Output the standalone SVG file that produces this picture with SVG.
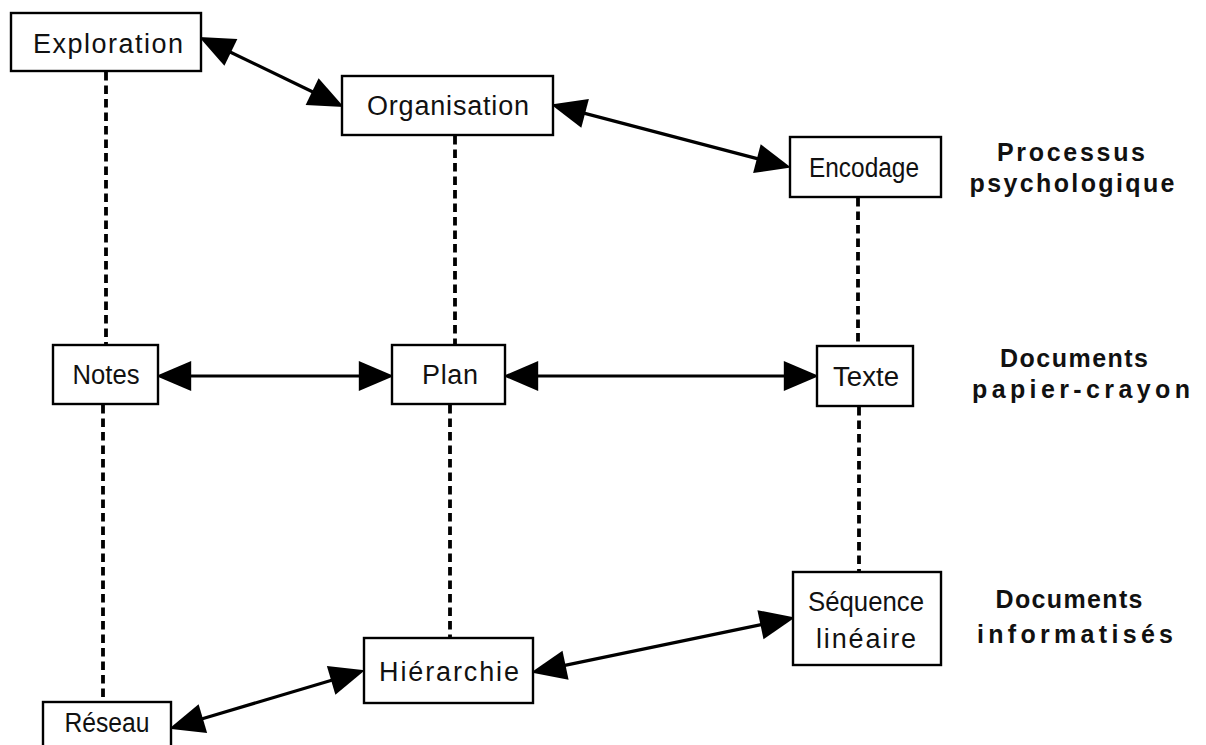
<svg xmlns="http://www.w3.org/2000/svg" width="1206" height="745" viewBox="0 0 1206 745">
<style>
.box{fill:#fff;stroke:#000;stroke-width:2.4}
.t{font-family:"Liberation Sans",Arial,sans-serif;font-size:27px;fill:#111;text-anchor:middle}
.lab{font-family:"Liberation Sans",Arial,sans-serif;font-size:25px;font-weight:bold;fill:#111;text-anchor:middle}
.dash{stroke:#000;stroke-width:3.8;stroke-dasharray:8.5 5;fill:none}
.arr{stroke:#000;stroke-width:3.2;fill:none;marker-start:url(#ah);marker-end:url(#ah)}
</style>
<defs>
<marker id="ah" markerUnits="userSpaceOnUse" markerWidth="40" markerHeight="32" refX="0" refY="0" orient="auto-start-reverse" viewBox="-4 -15 36 30" overflow="visible">
<path d="M-3,-14 L30,0 L-3,14 Z" fill="#000"/>
</marker>
</defs>
<rect width="1206" height="745" fill="#fff"/>
<g id="connectors">
<line class="dash" x1="106" y1="72" x2="106" y2="345"/>
<line class="dash" x1="103" y1="405" x2="103" y2="702"/>
<line class="dash" x1="455" y1="136" x2="455" y2="350"/>
<line class="dash" x1="450" y1="405" x2="450" y2="638"/>
<line class="dash" x1="858" y1="198" x2="858" y2="346"/>
<line class="dash" x1="859" y1="407" x2="859" y2="572"/>
<line class="arr" x1="228" y1="51" x2="315" y2="93"/>
<line class="arr" x1="582" y1="112.6" x2="760" y2="159.4"/>
<line class="arr" x1="188" y1="376" x2="362" y2="376"/>
<line class="arr" x1="535" y1="376" x2="787" y2="376"/>
<line class="arr" x1="199.8" y1="719.5" x2="334.2" y2="679.5"/>
<line class="arr" x1="562.4" y1="665.9" x2="763.6" y2="624.1"/>
</g>
<g id="exploration">
<rect class="box" x="11" y="13" width="190" height="58"/>
<text class="t" x="108" y="53" font-size="30" textLength="150">Exploration</text>
</g>
<g id="organisation">
<rect class="box" x="342" y="76" width="211" height="59"/>
<text class="t" x="448" y="115" font-size="28.5" textLength="162">Organisation</text>
</g>
<g id="encodage">
<rect class="box" x="790" y="137" width="151" height="60"/>
<text class="t" x="864" y="177" font-size="30" textLength="110" lengthAdjust="spacingAndGlyphs">Encodage</text>
</g>
<g id="notes">
<rect class="box" x="53" y="345" width="105" height="59"/>
<text class="t" x="106" y="384" textLength="67" lengthAdjust="spacingAndGlyphs">Notes</text>
</g>
<g id="plan">
<rect class="box" x="392" y="345" width="113" height="59"/>
<text class="t" x="450" y="384" textLength="56">Plan</text>
</g>
<g id="texte">
<rect class="box" x="817" y="346" width="96" height="60"/>
<text class="t" x="866" y="386" textLength="66" lengthAdjust="spacingAndGlyphs">Texte</text>
</g>
<g id="sequence">
<rect class="box" x="793" y="572" width="148" height="93"/>
<text class="t" x="866" y="611" font-size="28" textLength="116" lengthAdjust="spacingAndGlyphs">Séquence</text>
<text class="t" x="866" y="648" textLength="100">linéaire</text>
</g>
<g id="hierarchie">
<rect class="box" x="364" y="638" width="169" height="65"/>
<text class="t" x="449" y="681" textLength="140">Hiérarchie</text>
</g>
<g id="reseau">
<rect class="box" x="43" y="702" width="128" height="60"/>
<text class="t" x="107" y="732" font-size="28" textLength="85" lengthAdjust="spacingAndGlyphs">Réseau</text>
</g>
<g id="labels">
<text class="lab" x="1071" y="161" textLength="148">Processus</text>
<text class="lab" x="1072" y="192" textLength="205">psychologique</text>
<text class="lab" x="1074" y="367" textLength="148">Documents</text>
<text class="lab" x="1081" y="398" textLength="218">papier-crayon</text>
<text class="lab" x="1069" y="608" textLength="147">Documents</text>
<text class="lab" x="1075" y="643" textLength="196">informatisés</text>
</g>
</svg>
